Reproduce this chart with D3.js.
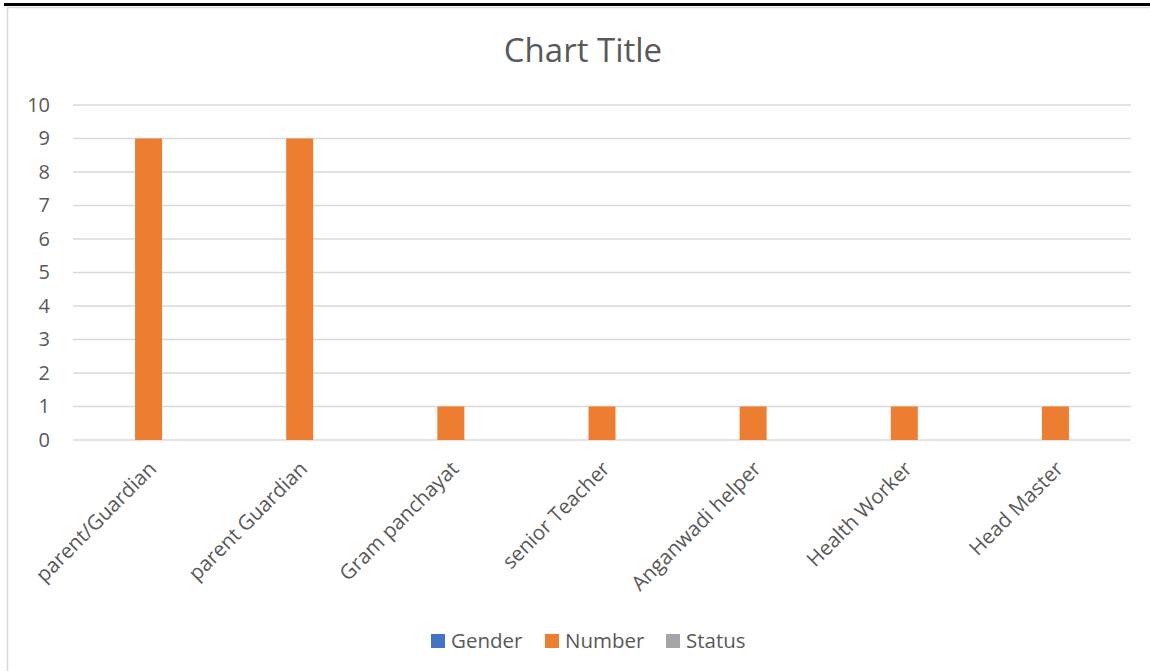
<!DOCTYPE html>
<html><head><meta charset="utf-8">
<script src="https://cdn.jsdelivr.net/npm/d3@7/dist/d3.min.js"></script>
<style>
html,body{margin:0;padding:0;background:#fff;}
svg{display:block;font-family:"Open Sans",sans-serif;}
</style></head>
<body>
<svg id="c" width="1150" height="671"></svg>
<script>
const categories = ["parent/Guardian","parent Guardian","Gram panchayat","senior Teacher","Anganwadi helper","Health Worker","Head Master"];
const seriesNames = ["Gender","Number","Status"];
const gender = [0,0,0,0,0,0,0];
const number = [9,9,1,1,1,1,1];
const status = [0,0,0,0,0,0,0];
const yTicks = [0,1,2,3,4,5,6,7,8,9,10];
const colors = ["#4472C4","#ED7D31","#A5A5A5"];
const seriesValues = [gender, number, status];

(function(){
const svg = d3.select("#c");
const textColor = "#595959";

// top black rule and chart frame
svg.append("rect").attr("x",4).attr("y",3).attr("width",1146).attr("height",3).attr("fill","#000");
svg.append("rect").attr("x",7.5).attr("y",7.5).attr("width",1150).attr("height",700)
  .attr("fill","none").attr("stroke","#D9D9D9").attr("stroke-width",1.5);

const pLeft=73, pRight=1131, pTop=105, pBottom=440;
const x = d3.scaleBand().domain(categories).range([pLeft,pRight]).padding(0);
const y = d3.scaleLinear().domain([0,10]).range([pBottom,pTop]);
const bw = x.bandwidth();
const g = 0.232;
const xi = d3.scaleBand().domain(seriesNames).range([bw*g, bw*(1-g)]).padding(0);

// gridlines
svg.append("g").selectAll("line").data(yTicks).join("line")
  .attr("x1",pLeft).attr("x2",pRight)
  .attr("y1",d=>y(d)).attr("y2",d=>y(d))
  .attr("stroke","#D9D9D9").attr("stroke-width",1.3);

// y axis labels
const yAxis = d3.axisLeft(y).tickValues(yTicks).tickSize(0).tickPadding(23);
const ya = svg.append("g").attr("transform",`translate(${pLeft},0)`).call(yAxis);
ya.select(".domain").remove();
ya.selectAll("text").attr("fill",textColor).style("font-size","20px").style("font-family","'Open Sans',sans-serif");

// bars
seriesNames.forEach((s,si)=>{
  svg.append("g").selectAll("rect").data(categories).join("rect")
    .attr("x",(c)=>x(c)+xi(s))
    .attr("width",xi.bandwidth())
    .attr("y",(c,i)=>y(seriesValues[si][i]))
    .attr("height",(c,i)=>y(0)-y(seriesValues[si][i]))
    .attr("fill",colors[si]);
});

// x labels
svg.append("g").selectAll("text").data(categories).join("text")
  .attr("transform",d=>`translate(${x(d)+bw/2+9},470) rotate(-45)`)
  .attr("text-anchor","end")
  .attr("fill",textColor).style("font-size","20.5px")
  .text(d=>d);

// title
svg.append("text").attr("x",583).attr("y",62).attr("text-anchor","middle")
  .attr("fill",textColor).style("font-size","33px").text("Chart Title");

// legend
const legendX = [431,545,666];
const lg = svg.append("g");
seriesNames.forEach((s,i)=>{
  lg.append("rect").attr("x",legendX[i]).attr("y",634).attr("width",14).attr("height",14).attr("fill",colors[i]);
  lg.append("text").attr("x",legendX[i]+20).attr("y",648).attr("fill",textColor).style("font-size","20.5px").text(s);
});
})();
</script>
</body></html>
